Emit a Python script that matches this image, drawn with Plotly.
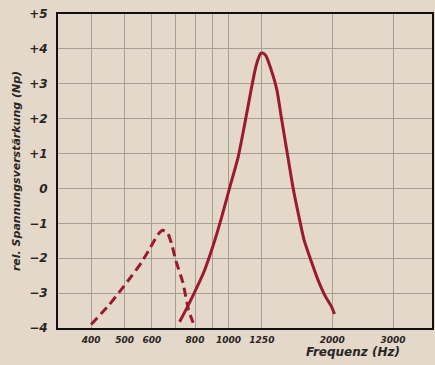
import plotly.graph_objects as go

# Dashed curve (lower band)
dash_freq = [400, 450, 489, 525, 559, 595, 625, 645, 665, 685, 703, 738, 766, 790]
dash_gain = [-3.9, -3.35, -2.9, -2.5, -2.13, -1.68, -1.32, -1.2, -1.25, -1.6, -2.05, -2.7, -3.48, -3.85]

# Solid curve (resonance)
solid_freq = [722, 760, 800, 850, 900, 954, 1010, 1067, 1115, 1163, 1195, 1220, 1240, 1260, 1285, 1330, 1382, 1420, 1459, 1500, 1543, 1600, 1657, 1740, 1818, 1900, 1992, 2030]
solid_gain = [-3.82, -3.4, -2.95, -2.38, -1.68, -0.85, 0.05, 0.9, 1.85, 2.82, 3.4, 3.72, 3.87, 3.88, 3.8, 3.4, 2.82, 2.1, 1.39, 0.68, -0.04, -0.8, -1.48, -2.1, -2.62, -3.05, -3.4, -3.6]

x_grid = [400, 500, 600, 700, 800, 900, 1000, 1250, 2000, 3000]
x_labels = ["400", "500", "600", "", "800", "", "1000", "1250", "2000", "3000"]
y_ticks = [-4, -3, -2, -1, 0, 1, 2, 3, 4, 5]
y_labels = ["−4", "−3", "−2", "−1", "0", "+1", "+2", "+3", "+4", "+5"]

red = "#9a1a2e"
bg = "#e4d8cb"
ink = "#2a2522"
font_fam = "DejaVu Sans"

fig = go.Figure()
fig.add_trace(go.Scatter(x=dash_freq, y=dash_gain, mode="lines",
                         line=dict(color=red, width=3, dash="9px,5px", shape="spline", smoothing=0.4),
                         hoverinfo="skip"))
fig.add_trace(go.Scatter(x=solid_freq, y=solid_gain, mode="lines",
                         line=dict(color=red, width=3, shape="spline", smoothing=0.6),
                         hoverinfo="skip"))

fig.update_layout(
    width=435, height=365,
    margin=dict(l=58, r=3, t=14, b=37, autoexpand=False),
    paper_bgcolor=bg, plot_bgcolor=bg,
    showlegend=False,
    font=dict(family=font_fam, color=ink, size=11),
    xaxis=dict(type="log", range=[2.506, 3.590], automargin=False,
               tickvals=x_grid, ticktext=x_labels,
               showgrid=True, gridcolor="#a59e95", gridwidth=1,
               showline=True, linecolor="#111", linewidth=2, mirror=True,
               ticks="", zeroline=False, ticklabelstandoff=2,
               tickfont=dict(size=9, family=font_fam, style="italic", weight="bold", color=ink)),
    yaxis=dict(range=[-4, 5], tickvals=y_ticks, ticktext=y_labels, automargin=False,
               showgrid=True, gridcolor="#a59e95", gridwidth=1,
               showline=True, linecolor="#111", linewidth=2, mirror=True,
               ticks="", zeroline=False, ticklabelstandoff=6,
               tickfont=dict(size=12, family=font_fam, style="italic", weight="bold", color=ink),
               title=dict(text="rel. Spannungsverstärkung (Np)", standoff=6,
                          font=dict(size=11, family=font_fam, style="italic", weight="bold", color=ink))),
)

fig.add_annotation(text="Frequenz (Hz)", xref="paper", yref="paper", x=0.79, y=-0.077,
                   xanchor="center", yanchor="middle", showarrow=False,
                   font=dict(size=12, family=font_fam, style="italic", weight="bold", color=ink))

fig.write_html("out.html", config={"displayModeBar": False},
               post_script="document.body.style.margin='0';document.body.style.background='%s';" % bg)
